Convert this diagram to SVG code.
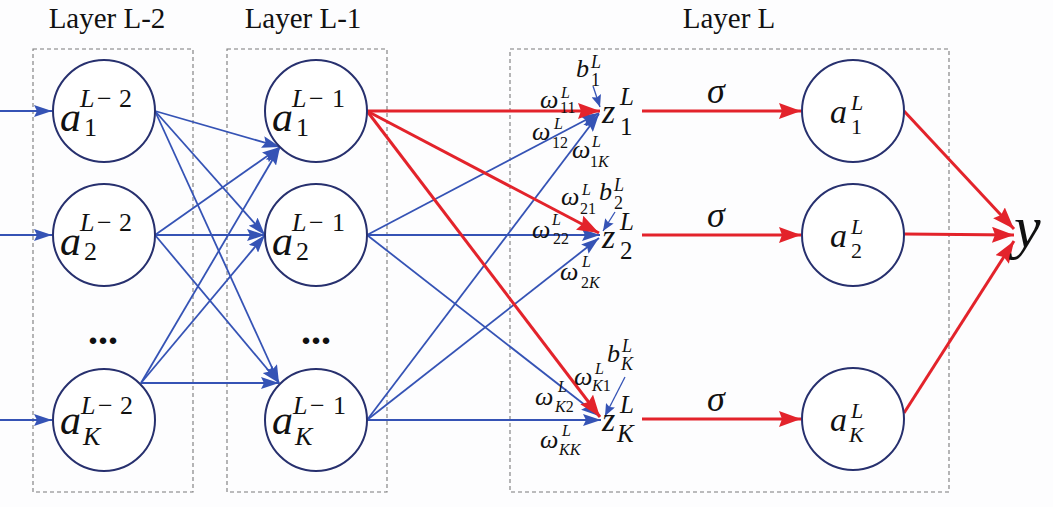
<svg xmlns="http://www.w3.org/2000/svg" width="1053" height="507" viewBox="0 0 1053 507">
<style>
.bg{fill:#fdfdfe}
.box{fill:none;stroke:#7a7a7a;stroke-width:1.1;stroke-dasharray:4 3}
.node{fill:#ffffff;stroke:#27306e;stroke-width:2}
.b{stroke:#3553b5;stroke-width:1.8;fill:none;marker-end:url(#ab)}
.bt{stroke:#3553b5;stroke-width:1.3;fill:none;marker-end:url(#abs)}
.r{stroke:#e3232b;stroke-width:3;fill:none;marker-end:url(#ar)}
text{font-family:"Liberation Serif","Times New Roman",serif;fill:#111}
.it{font-style:italic}
.title{font-size:29px;text-anchor:middle}
.big{font-size:42px}
.ss{font-size:26px}
.am{font-size:34px}
.as{font-size:22px}
.zm{font-size:34px}
.zs{font-size:25px}
.bm{font-size:26px}
.bs{font-size:18px}
.wm{font-size:26px}
.ws{font-size:16px}
.sig{font-size:36px}
.dots{font-size:40px;font-weight:bold;text-anchor:middle}
</style>
<defs>
<marker id="ab" markerUnits="userSpaceOnUse" markerWidth="18" markerHeight="12" refX="18" refY="6" orient="auto"><path d="M0,0 L18,6 L0,12 L3,6 z" fill="#3553b5"/></marker>
<marker id="abs" markerUnits="userSpaceOnUse" markerWidth="12" markerHeight="10" refX="12" refY="5" orient="auto"><path d="M0,0 L12,5 L0,10 L2,5 z" fill="#3553b5"/></marker>
<marker id="ar" markerUnits="userSpaceOnUse" markerWidth="22" markerHeight="16" refX="22" refY="8" orient="auto"><path d="M0,0 L22,8 L0,16 L3,8 z" fill="#e3232b"/></marker>
</defs>
<rect class="bg" x="0" y="0" width="1053" height="507"/>

<g id="layers">
<rect class="box" x="33" y="49" width="160" height="443"/>
<rect class="box" x="227" y="49" width="160" height="443"/>
<rect class="box" x="510" y="49" width="439" height="443"/>
<text class="title" x="107" y="28">Layer L-2</text>
<text class="title" x="303" y="28">Layer L-1</text>
<text class="title" x="729" y="28">Layer L</text>
</g>

<g id="connectors">
<line class="b" x1="0" y1="111" x2="52" y2="111"/>
<line class="b" x1="0" y1="235" x2="52" y2="235"/>
<line class="b" x1="0" y1="420" x2="52" y2="420"/>
<line class="b" x1="155" y1="111" x2="280" y2="147"/>
<line class="b" x1="155" y1="111" x2="265" y2="235"/>
<line class="b" x1="155" y1="111" x2="279" y2="383"/>
<line class="b" x1="155" y1="235" x2="280" y2="147"/>
<line class="b" x1="155" y1="235" x2="265" y2="235"/>
<line class="b" x1="155" y1="235" x2="279" y2="383"/>
<line class="b" x1="141" y1="383" x2="280" y2="147"/>
<line class="b" x1="141" y1="383" x2="265" y2="235"/>
<line class="b" x1="141" y1="383" x2="279" y2="383"/>
<line class="b" x1="367" y1="235" x2="599" y2="113"/>
<line class="b" x1="367" y1="420" x2="599" y2="114"/>
<line class="b" x1="367" y1="235" x2="600" y2="235"/>
<line class="b" x1="367" y1="420" x2="599" y2="238"/>
<line class="b" x1="367" y1="235" x2="599" y2="416"/>
<line class="b" x1="367" y1="420" x2="601" y2="420"/>
<line class="r" x1="367" y1="111" x2="600" y2="111"/>
<line class="r" x1="367" y1="111" x2="599" y2="233"/>
<line class="r" x1="367" y1="111" x2="600" y2="417"/>
<line class="bt" x1="593" y1="86" x2="600" y2="107"/>
<line class="bt" x1="615" y1="212" x2="603" y2="231"/>
<line class="bt" x1="625" y1="377" x2="605" y2="416"/>
<line class="r" x1="642" y1="111" x2="801" y2="111"/>
<line class="r" x1="642" y1="235" x2="801" y2="235"/>
<line class="r" x1="642" y1="419" x2="801" y2="419"/>
<line class="r" x1="904" y1="111" x2="1014" y2="229"/>
<line class="r" x1="904" y1="234" x2="1014" y2="235"/>
<line class="r" x1="904" y1="413" x2="1014" y2="241"/>
</g>

<g id="a1_Lm2"><circle class="node" cx="104" cy="111" r="51"/>
<text><tspan class="it big" x="60" y="131">a</tspan><tspan class="it ss" x="80" y="107">L</tspan><tspan class="ss" x="97" y="107">−</tspan><tspan class="ss" x="119" y="107">2</tspan><tspan class="ss" x="84" y="136">1</tspan></text></g>
<g id="a2_Lm2"><circle class="node" cx="104" cy="235" r="51"/>
<text><tspan class="it big" x="60" y="255">a</tspan><tspan class="it ss" x="80" y="231">L</tspan><tspan class="ss" x="97" y="231">−</tspan><tspan class="ss" x="119" y="231">2</tspan><tspan class="ss" x="84" y="260">2</tspan></text></g>
<g id="aK_Lm2"><circle class="node" cx="104" cy="420" r="51"/>
<text><tspan class="it big" x="60" y="434">a</tspan><tspan class="it ss" x="81" y="414">L</tspan><tspan class="ss" x="98" y="414">−</tspan><tspan class="ss" x="120" y="414">2</tspan><tspan class="it ss" x="83" y="445">K</tspan></text></g>
<text id="dots_Lm2" class="dots" x="103" y="344">...</text>

<g id="a1_Lm1"><circle class="node" cx="316" cy="111" r="51"/>
<text><tspan class="it big" x="272" y="131">a</tspan><tspan class="it ss" x="292" y="107">L</tspan><tspan class="ss" x="309" y="107">−</tspan><tspan class="ss" x="332" y="107">1</tspan><tspan class="ss" x="296" y="136">1</tspan></text></g>
<g id="a2_Lm1"><circle class="node" cx="316" cy="235" r="51"/>
<text><tspan class="it big" x="272" y="255">a</tspan><tspan class="it ss" x="292" y="231">L</tspan><tspan class="ss" x="309" y="231">−</tspan><tspan class="ss" x="332" y="231">1</tspan><tspan class="ss" x="296" y="260">2</tspan></text></g>
<g id="aK_Lm1"><circle class="node" cx="316" cy="420" r="51"/>
<text><tspan class="it big" x="272" y="434">a</tspan><tspan class="it ss" x="293" y="414">L</tspan><tspan class="ss" x="310" y="414">−</tspan><tspan class="ss" x="333" y="414">1</tspan><tspan class="it ss" x="295" y="445">K</tspan></text></g>
<text id="dots_Lm1" class="dots" x="316" y="344">...</text>

<g id="z1"><text><tspan class="it zm" x="602" y="123">z</tspan><tspan class="it zs" x="620" y="105">L</tspan><tspan class="zs" x="620" y="135">1</tspan></text></g>
<g id="z2"><text><tspan class="it zm" x="602" y="248">z</tspan><tspan class="it zs" x="620" y="230">L</tspan><tspan class="zs" x="620" y="259">2</tspan></text></g>
<g id="zK"><text><tspan class="it zm" x="602" y="431">z</tspan><tspan class="it zs" x="620" y="413">L</tspan><tspan class="it zs" x="617" y="442">K</tspan></text></g>

<g id="a1_L"><circle class="node" cx="853" cy="111" r="51"/>
<text><tspan class="it am" x="830" y="123">a</tspan><tspan class="it as" x="851" y="110">L</tspan><tspan class="as" x="851" y="134">1</tspan></text></g>
<g id="a2_L"><circle class="node" cx="853" cy="235" r="51"/>
<text><tspan class="it am" x="830" y="247">a</tspan><tspan class="it as" x="851" y="234">L</tspan><tspan class="as" x="851" y="258">2</tspan></text></g>
<g id="aK_L"><circle class="node" cx="853" cy="419" r="51"/>
<text><tspan class="it am" x="830" y="431">a</tspan><tspan class="it as" x="851" y="418">L</tspan><tspan class="it as" x="849" y="442">K</tspan></text></g>

<g id="y"><text class="it" style="font-size:60px" x="1014" y="247">y</text></g>

<g id="labels">
<text class="it sig" x="707" y="103">σ</text>
<text class="it sig" x="707" y="227">σ</text>
<text class="it sig" x="707" y="411">σ</text>
<text><tspan class="it bm" x="576" y="77">b</tspan><tspan class="it bs" x="591" y="68">L</tspan><tspan class="bs" x="591" y="86">1</tspan></text>
<text><tspan class="it bm" x="599" y="200">b</tspan><tspan class="it bs" x="614" y="191">L</tspan><tspan class="bs" x="614" y="209">2</tspan></text>
<text><tspan class="it bm" x="607" y="362">b</tspan><tspan class="it bs" x="622" y="352">L</tspan><tspan class="it bs" x="621" y="370">K</tspan></text>

<text><tspan class="it wm" x="540" y="108">ω</tspan><tspan class="it ws" x="561" y="98">L</tspan><tspan class="ws" x="560" y="113">11</tspan></text>
<text><tspan class="it wm" x="532" y="140">ω</tspan><tspan class="it ws" x="554" y="129">L</tspan><tspan class="ws" x="552" y="148">12</tspan></text>
<text><tspan class="it wm" x="572" y="158">ω</tspan><tspan class="it ws" x="592" y="147">L</tspan><tspan class="ws" x="590" y="167">1</tspan><tspan class="it ws">K</tspan></text>
<text><tspan class="it wm" x="561" y="205">ω</tspan><tspan class="it ws" x="582" y="195">L</tspan><tspan class="ws" x="580" y="214">21</tspan></text>
<text><tspan class="it wm" x="532" y="238">ω</tspan><tspan class="it ws" x="552" y="225">L</tspan><tspan class="ws" x="553" y="244">22</tspan></text>
<text><tspan class="it wm" x="560" y="280">ω</tspan><tspan class="it ws" x="582" y="267">L</tspan><tspan class="ws" x="581" y="288">2</tspan><tspan class="it ws">K</tspan></text>
<text><tspan class="it wm" x="574" y="385">ω</tspan><tspan class="it ws" x="595" y="374">L</tspan><tspan class="it ws" x="592" y="391">K</tspan><tspan class="ws">1</tspan></text>
<text><tspan class="it wm" x="535" y="405">ω</tspan><tspan class="it ws" x="558" y="392">L</tspan><tspan class="it ws" x="555" y="412">K</tspan><tspan class="ws">2</tspan></text>
<text><tspan class="it wm" x="540" y="448">ω</tspan><tspan class="it ws" x="562" y="436">L</tspan><tspan class="it ws" x="559" y="455">KK</tspan></text>
</g>
</svg>
